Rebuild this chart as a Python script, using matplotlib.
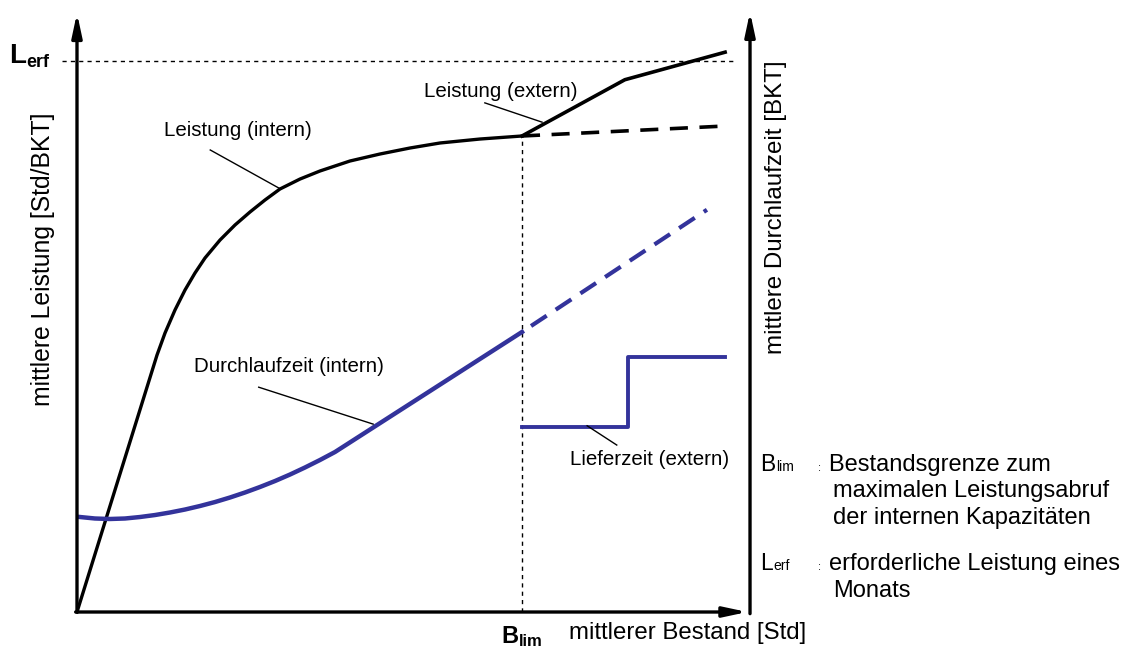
import matplotlib
matplotlib.use("Agg")
import matplotlib.pyplot as plt

plt.rcParams['font.family'] = ['Liberation Sans', 'DejaVu Sans']

# diagram units: x = mittlerer Bestand, y = mittlere Leistung (L_erf = 100)
B_LIM = 66.1
L_ERF = 100.0

leistung_intern_x = [0, 11.89, 13.08, 14.56, 16.05, 17.53, 19.02, 21.25, 23.48, 25.71, 27.93,
                     30.16, 33.14, 36.11, 40.56, 45.02, 49.48, 53.94, 59.88, 66.12]
leistung_intern_y = [0, 46.64, 50.64, 54.81, 58.44, 61.52, 64.25, 67.51, 70.24, 72.60, 74.77,
                     76.77, 78.58, 80.04, 81.85, 83.12, 84.21, 85.12, 85.84, 86.39]

leistung_intern_ext_x = [66.12, 96.3]
leistung_intern_ext_y = [86.39, 88.2]

leistung_extern_x = [66.12, 81.4, 96.3]
leistung_extern_y = [86.39, 96.6, 101.6]

dlz_intern_x = [0.45, 2.67, 4.90, 7.13, 9.36, 11.59, 13.82, 16.05, 18.28, 20.51, 22.73,
                24.96, 27.19, 29.42, 31.65, 33.88, 36.11, 38.34, 66.12]
dlz_intern_y = [17.24, 16.97, 16.88, 16.97, 17.24, 17.60, 18.06, 18.60, 19.24, 19.96, 20.78,
                21.69, 22.69, 23.77, 24.95, 26.23, 27.59, 29.04, 50.82]

dlz_intern_ext_x = [66.12, 93.6]
dlz_intern_ext_y = [50.82, 73.0]

lieferzeit_x = [66.12, 81.9, 81.9, 96.3]
lieferzeit_y = [33.5, 33.5, 46.2, 46.2]

BLUE = '#33339b'

fig = plt.figure(figsize=(11.36, 6.53), dpi=100)
ax = fig.add_axes([0, 0, 1, 1])
ax.set_xlim(-11.44, 157.35)
ax.set_ylim(-7.44, 111.07)
ax.set_axis_off()

# axes with arrows
arrow = dict(arrowstyle='-|>,head_length=0.7,head_width=0.15', lw=2.4, color='k',
             mutation_scale=20, shrinkA=0, shrinkB=0)
ax.annotate('', xy=(0, 108.7), xytext=(0, 0), arrowprops=arrow)
ax.annotate('', xy=(100, 108.9), xytext=(100, -0.3), arrowprops=arrow)
ax.annotate('', xy=(99.6, 0), xytext=(-0.2, 0), arrowprops=arrow)

# helper lines
ax.plot([-2.2, 97.5], [L_ERF, L_ERF], color='k', lw=1, ls=(0, (3, 3)))
ax.plot([B_LIM, B_LIM], [0, 86.4], color='k', lw=1, ls=(0, (3, 3)))

# curves
ax.plot(leistung_intern_x, leistung_intern_y, color='k', lw=2.4, solid_joinstyle='round')
ax.plot(leistung_intern_ext_x, leistung_intern_ext_y, color='k', lw=2.6, ls=(0, (5, 3.2)))
ax.plot(leistung_extern_x, leistung_extern_y, color='k', lw=2.6)
ax.plot(dlz_intern_x, dlz_intern_y, color=BLUE, lw=3.2, solid_joinstyle='round')
ax.plot(dlz_intern_ext_x, dlz_intern_ext_y, color=BLUE, lw=3.0, ls=(4.5, (4.5, 2.6)))
ax.plot(lieferzeit_x, lieferzeit_y, color=BLUE, lw=2.8)

# annotations with leader lines
fs = 14.8
ax.text(23.9, 87.3, 'Leistung (intern)', fontsize=fs, ha='center', va='center')
ax.plot([19.8, 30.2], [83.85, 76.8], color='k', lw=1)
ax.text(62.9, 94.4, 'Leistung (extern)', fontsize=fs, ha='center', va='center')
ax.plot([60.6, 69.1], [92.4, 88.9], color='k', lw=1)
ax.text(31.5, 44.6, 'Durchlaufzeit (intern)', fontsize=fs, ha='center', va='center')
ax.plot([27.0, 44.0], [40.8, 34.1], color='k', lw=1)
ax.text(85.1, 27.6, 'Lieferzeit (extern)', fontsize=fs, ha='center', va='center')
ax.plot([75.8, 80.2], [33.8, 30.3], color='k', lw=1)

# axis labels
ax.text(-5.05, 64.1, 'mittlere Leistung [Std/BKT]', fontsize=17.8, rotation=90,
        ha='center', va='center')
ax.text(103.9, 73.5, 'mittlere Durchlaufzeit [BKT]', fontsize=17.4, rotation=90,
        ha='center', va='center')
ax.text(90.8, -3.8, 'mittlerer Bestand [Std]', fontsize=17.3, ha='center', va='center')

# B_lim and L_erf markers
ax.text(65.6, -5.6, 'B', fontsize=17, fontweight='bold', ha='right', va='baseline')
ax.text(65.6, -6.2, 'lim', fontsize=12, fontweight='bold', ha='left', va='baseline')
ax.text(-7.6, 99.6, 'L', fontsize=20, fontweight='bold', ha='right', va='baseline')
ax.text(-7.6, 99.0, 'erf', fontsize=13, fontweight='bold', ha='left', va='baseline')

# legend text on the right
def y_px(py):
    return (612 - py) / 5.51

def x_px(px):
    return (px - 77) / 6.73

lfs = 17.0
ax.text(x_px(760), y_px(471), 'B', fontsize=16.5, va='baseline')
ax.text(x_px(776), y_px(471), 'lim', fontsize=10, va='baseline')
ax.text(x_px(818), y_px(471), ':', fontsize=8, va='baseline')
ax.text(x_px(829), y_px(471), 'Bestandsgrenze zum', fontsize=lfs, va='baseline')
ax.text(x_px(833), y_px(497), 'maximalen Leistungsabruf', fontsize=lfs, va='baseline')
ax.text(x_px(833), y_px(524), 'der internen Kapazitäten', fontsize=lfs, va='baseline')
ax.text(x_px(760), y_px(570), 'L', fontsize=16.5, va='baseline')
ax.text(x_px(773), y_px(570), 'erf', fontsize=10, va='baseline')
ax.text(x_px(818), y_px(570), ':', fontsize=8, va='baseline')
ax.text(x_px(829), y_px(570), 'erforderliche Leistung eines', fontsize=lfs, va='baseline')
ax.text(x_px(833), y_px(597), 'Monats', fontsize=lfs, va='baseline')

fig.savefig('out.png', dpi=100)
